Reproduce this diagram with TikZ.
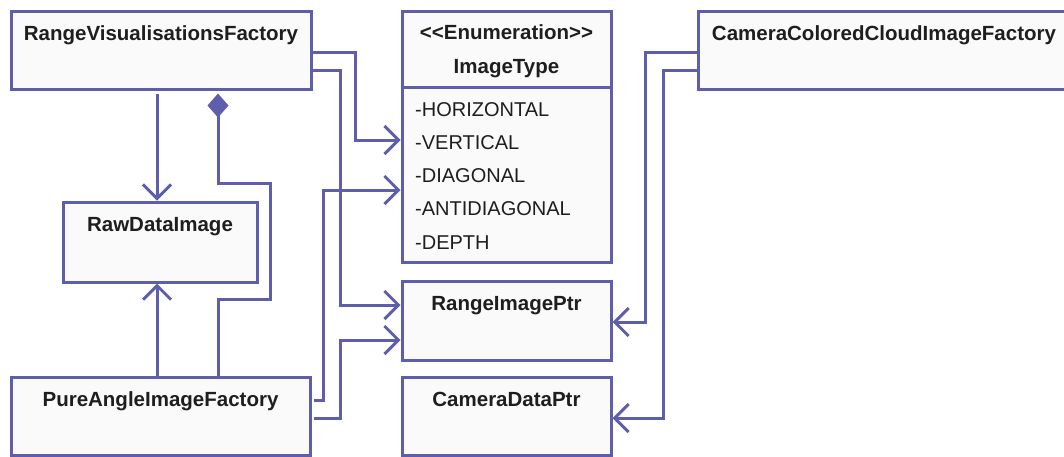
\documentclass[tikz,border=0pt]{standalone}
\usepackage{fontspec}
\setmainfont{Liberation Sans}
\usetikzlibrary{arrows.meta,calc}
\definecolor{umlline}{RGB}{94,94,172}
\definecolor{umlfill}{RGB}{250,250,250}
\definecolor{umltext}{RGB}{30,30,30}
\tikzset{
  cls/.style={draw=umlline, line width=3pt, fill=umlfill, inner sep=0pt, rectangle,
    text=umltext, font=\fontsize{20.5pt}{24pt}\selectfont\bfseries,
    text height=29pt},
  item/.style={inner sep=0pt, anchor=base west, text=umltext, font=\fontsize{20pt}{24pt}\selectfont},
  hdr/.style={inner sep=0pt, anchor=base, text=umltext, font=\fontsize{20.5pt}{24pt}\selectfont\bfseries},
  conn/.style={draw=umlline, line width=3pt, -{Straight Barb[length=14pt,width=28pt,line width=3pt]}},
  comp/.style={draw=umlline, line width=3pt, {Diamond[length=24pt,width=21pt,fill=umlline]}-, shorten <=3pt}
}
\begin{document}
\begin{tikzpicture}[x=1pt,y=-1pt]
\useasboundingbox (0,0) rectangle (1064,456);
% class boxes
\node[cls, minimum width=300pt, minimum height=78pt, text depth=49pt] (rvf) at (161,50) {RangeVisualisationsFactory};
\node[cls, minimum width=372pt, minimum height=78pt, text depth=49pt] (ccc) at (884,50) {CameraColoredCloudImageFactory};
\node[cls, minimum width=194pt, minimum height=80pt, text depth=51pt] (raw) at (160,242) {RawDataImage};
\node[cls, minimum width=209pt, minimum height=79pt, text depth=50pt] (rip) at (506.5,320.5) {RangeImagePtr};
\node[cls, minimum width=209pt, minimum height=78pt, text depth=49pt] (cdp) at (506.5,416) {CameraDataPtr};
\node[cls, minimum width=299pt, minimum height=78pt, text depth=49pt] (paf) at (160.5,416) {PureAngleImageFactory};
% enumeration
\node[cls, minimum width=209pt, minimum height=251pt, text height=0pt, text depth=0pt] (it) at (506.5,136.5) {};
\draw[draw=umlline, line width=3pt] (it.west|-0,87) -- (it.east|-0,87);
\node[hdr] (ithead) at (506.5,39) {<\kern0pt<Enumeration>\kern0pt>};
\node[hdr] (itname) at (506.5,73) {ImageType};
\node[item] (i1) at (415,116) {-HORIZONTAL};
\node[item] (i2) at (415,149.3) {-VERTICAL};
\node[item] (i3) at (415,182.6) {-DIAGONAL};
\node[item] (i4) at (415,215.9) {-ANTIDIAGONAL};
\node[item] (i5) at (415,249.2) {-DEPTH};
% connectors
\draw[conn] (rvf.east|-0,52) -- (355,52) -- (355,140) -- (it.west|-0,140);
\draw[conn] (rvf.east|-0,70) -- (340,70) -- (340,305) -- (rip.west|-0,305);
\draw[conn, shorten <=3pt] (rvf.south-|157,0) -- (raw.north-|157,0);
\draw[comp] (rvf.south-|218,0) -- (218,183) -- (270,183) -- (270,299) -- (218,299) -- (paf.north-|218,0);
\draw[conn] (paf.north-|157,0) -- (raw.south-|157,0);
\draw[conn, shorten <=2pt] (paf.east|-0,400) -- (323,400) -- (323,190) -- (it.west|-0,190);
\draw[conn, shorten <=2pt] (paf.east|-0,418) -- (340,418) -- (340,340) -- (rip.west|-0,340);
\draw[conn] (ccc.west|-0,52) -- (645,52) -- (645,322) -- (rip.east|-0,322);
\draw[conn] (ccc.west|-0,70) -- (663,70) -- (663,418) -- (cdp.east|-0,418);
\end{tikzpicture}
\end{document}
